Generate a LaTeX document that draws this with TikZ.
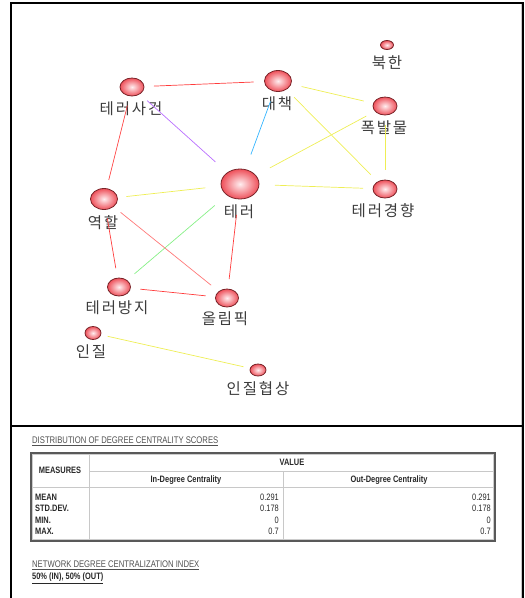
\documentclass[tikz,border=0pt]{standalone}
\usepackage{fontspec}
\newfontfamily\krfont[LetterSpace=12]{Noto Sans CJK KR}
\newfontfamily\narrowfont[FakeStretch=0.8]{Liberation Sans}
\usetikzlibrary{shapes.geometric}
\definecolor{rimred}{RGB}{120,35,40}
\definecolor{ballred}{RGB}{238,80,90}
\definecolor{ballhi}{RGB}{255,238,240}
\definecolor{lred}{RGB}{255,60,60}
\definecolor{lred2}{RGB}{255,120,120}
\definecolor{lyel}{RGB}{238,238,85}
\definecolor{lpurp}{RGB}{185,110,255}
\definecolor{lblue}{RGB}{50,180,255}
\definecolor{lgreen}{RGB}{135,240,135}
\definecolor{labgray}{RGB}{60,60,60}
\definecolor{tabtext}{RGB}{40,40,40}
\definecolor{tabline}{RGB}{200,200,200}
\begin{document}
\begin{tikzpicture}[x=1pt,y=-1pt,
  sph/.style n args={3}{ellipse, draw=rimred, line width=0.8pt, inner sep=0pt,
    inner color=ballhi, outer color=ballred,
    minimum width=#1pt, minimum height=#2pt, outer sep=#3pt},
  lab/.style={font=\krfont\fontsize{15.5}{17}\selectfont, text=labgray, inner sep=0pt},
  edge/.style={line width=0.7pt},
  tb/.style={font=\narrowfont\fontsize{9.3}{11}\selectfont, text=tabtext, inner sep=0pt},
  tbb/.style={font=\narrowfont\bfseries\fontsize{9.3}{11}\selectfont, text=tabtext, inner sep=0pt},
  ttl/.style={font=\narrowfont\fontsize{9.6}{11}\selectfont, text={rgb,255:red,80;green,80;blue,80}, inner sep=0pt, anchor=west}
]
\useasboundingbox (0,0) rectangle (525,598);
% frame
\draw[tabline, line width=0.8pt] (521,4) -- (521,598);
\draw[line width=1.5pt] (11,598) -- (11,3) -- (523,3) -- (523,598);
\draw[line width=1.2pt] (11,426) -- (523,426);

% nodes
\node[sph={13}{9}{6}]   (bukhan)   at (387,45)  {};
\node[sph={24}{18}{10}] (sageon)   at (132,87)  {};
\node[sph={27}{21}{11}] (daechaek) at (278,81)  {};
\node[sph={24}{18}{10}] (pokbal)   at (385,106) {};
\node[sph={38}{30}{16}] (tereo)    at (240,184) {};
\node[sph={24}{18}{10}] (gyeong)   at (385,189) {};
\node[sph={27}{21}{9}]  (yeokhal)  at (104,199) {};
\node[sph={23}{18}{10}] (bangji)   at (119,287) {};
\node[sph={23}{18}{10}] (olympic)  at (227,298) {};
\node[sph={16}{13}{7}]  (injil)    at (93,333)  {};
\node[sph={16}{12}{7}]  (hyeop)    at (258,370) {};

% labels
\node[lab] (lbukhan)   at (387,63)  {북한};
\node[lab] (lsageon)   at (131,109) {테러사건};
\node[lab] (ldaechaek) at (277,104) {대책};
\node[lab] (lpokbal)   at (384,128) {폭발물};
\node[lab] (ltereo)    at (239,212) {테러};
\node[lab] (lgyeong)   at (383,211) {테러경향};
\node[lab] (lyeokhal)  at (103,223) {역할};
\node[lab] (lbangji)   at (117,308) {테러방지};
\node[lab] (lolympic)  at (225,319) {올림픽};
\node[lab] (linjil)    at (91,352)  {인질};
\node[lab] (lhyeop)    at (258,389) {인질협상};

% edges
\draw[edge, lred]   (sageon) -- (daechaek);
\draw[edge, lyel]   (daechaek) -- (pokbal);
\draw[edge, lyel]   (daechaek) -- (gyeong);
\draw[edge, lyel]   (pokbal) -- (tereo);
\draw[edge, lyel]   (pokbal) -- (gyeong);
\draw[edge, lpurp]  (sageon) -- (tereo);
\draw[edge, lblue]  (daechaek) -- (tereo);
\draw[edge, lred]   (sageon) -- (yeokhal);
\draw[edge, lyel]   (yeokhal) -- (tereo);
\draw[edge, lyel]   (tereo) -- (gyeong);
\draw[edge, lgreen] (tereo) -- (bangji);
\draw[edge, lred]   (tereo) -- (olympic);
\draw[edge, lred]   (yeokhal) -- (bangji);
\draw[edge, lred2]  (yeokhal) -- (olympic);
\draw[edge, lred]   (bangji) -- (olympic);
\draw[edge, lyel]   (injil) -- (hyeop);

% statistics section
\node[ttl] (title1) at (32,441) {\underline{DISTRIBUTION OF DEGREE CENTRALITY SCORES}};

\draw[tabline, line width=0.8pt] (89,453) -- (89,541);
\draw[tabline, line width=0.8pt] (89,471) -- (495,471);
\draw[tabline, line width=0.8pt] (31,487.5) -- (495,487.5);
\draw[tabline, line width=0.8pt] (283,471) -- (283,541);
\draw[gray!40, line width=0.6pt] (32.5,454.5) rectangle (493.5,539.5);
\draw[gray!70!black, line width=1.1pt] (31,453) rectangle (495,541);

\node[tbb] (hmeas) at (60,470) {MEASURES};
\node[tbb] (hval)  at (292,462) {VALUE};
\node[tbb] (hin)   at (186,480) {In-Degree Centrality};
\node[tbb] (hout)  at (389,480) {Out-Degree Centrality};

\node[tbb, anchor=west] (rmean) at (35,497) {MEAN};
\node[tbb, anchor=west] (rstd)  at (35,508.5) {STD.DEV.};
\node[tbb, anchor=west] (rmin)  at (35,520) {MIN.};
\node[tbb, anchor=west] (rmax)  at (35,531.5) {MAX.};

\node[tb, anchor=east] (imean) at (279,497) {0.291};
\node[tb, anchor=east] (istd)  at (279,508.5) {0.178};
\node[tb, anchor=east] (imin)  at (279,520) {0};
\node[tb, anchor=east] (imax)  at (279,531.5) {0.7};

\node[tb, anchor=east] (omean) at (491,497) {0.291};
\node[tb, anchor=east] (ostd)  at (491,508.5) {0.178};
\node[tb, anchor=east] (omin)  at (491,520) {0};
\node[tb, anchor=east] (omax)  at (491,531.5) {0.7};

\node[ttl] (title2) at (32,565) {\underline{NETWORK DEGREE CENTRALIZATION INDEX}};
\node[ttl, text=tabtext, font=\narrowfont\bfseries\fontsize{9.3}{11}\selectfont] (idx) at (32,578) {\underline{50\% (IN), 50\% (OUT)}};
\end{tikzpicture}
\end{document}
